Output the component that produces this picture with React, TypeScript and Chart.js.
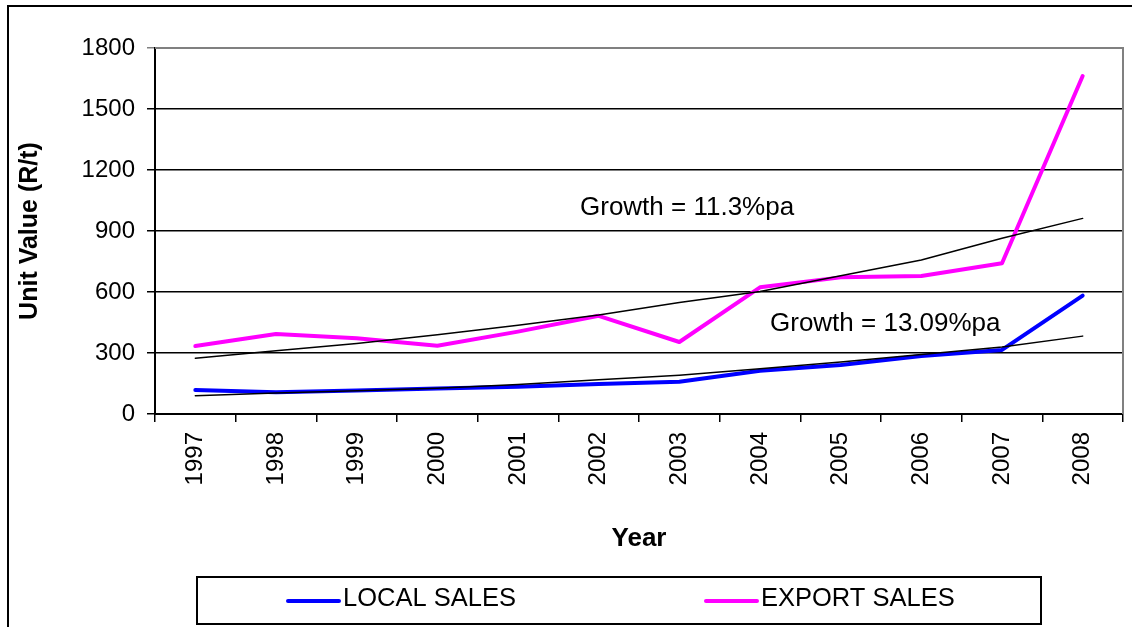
import React, { useEffect, useRef } from "react";
import { Chart, registerables } from "chart.js";

Chart.register(...registerables);

const years = ["1997", "1998", "1999", "2000", "2001", "2002", "2003", "2004", "2005", "2006", "2007", "2008"];
const localSales = [118, 107, 115, 125, 134, 147, 159, 213, 241, 285, 315, 582];
const exportSales = [334, 393, 372, 336, 405, 483, 354, 623, 672, 679, 741, 1662];
const exportTrend = [274, 311, 347, 390, 436, 487, 548, 602, 680, 757, 864, 962];
const localTrend = [90, 103, 114, 127, 145, 168, 191, 222, 256, 293, 330, 383];
const yTicks = [0, 300, 600, 900, 1200, 1500, 1800];
const annotations = [
  { text: "Growth = 11.3%pa", x: 580, y: 208 },
  { text: "Growth = 13.09%pa", x: 770, y: 324 },
];
const legendItems = [
  { label: "LOCAL SALES", color: "#0000FF", x: 288 },
  { label: "EXPORT SALES", color: "#FF00FF", x: 706 },
];

const FONT = "'Liberation Sans', Arial, sans-serif";

const decorPlugin = {
  id: "decor",
  afterDraw(chart: any) {
    const ctx = chart.ctx;
    const a = chart.chartArea;
    ctx.save();
    // plot area gray top/right border
    ctx.strokeStyle = "#808080";
    ctx.lineWidth = 2;
    ctx.beginPath();
    ctx.moveTo(a.left, a.top);
    ctx.lineTo(a.right, a.top);
    ctx.lineTo(a.right, a.bottom);
    ctx.stroke();
    // outer border (left/top)
    ctx.strokeStyle = "#000000";
    ctx.lineWidth = 2;
    ctx.beginPath();
    ctx.moveTo(8, 627);
    ctx.lineTo(8, 6);
    ctx.lineTo(1132, 6);
    ctx.stroke();
    // annotations
    ctx.fillStyle = "#000000";
    ctx.font = `26px ${FONT}`;
    ctx.textBaseline = "middle";
    ctx.textAlign = "left";
    annotations.forEach((t) => ctx.fillText(t.text, t.x, t.y));
    // legend box
    ctx.lineWidth = 2;
    ctx.strokeStyle = "#000000";
    ctx.strokeRect(197, 577, 844, 47);
    legendItems.forEach((it) => {
      ctx.strokeStyle = it.color;
      ctx.lineWidth = 4;
      ctx.lineCap = "round";
      ctx.beginPath();
      ctx.moveTo(it.x, 601);
      ctx.lineTo(it.x + 51, 601);
      ctx.stroke();
      ctx.fillStyle = "#000000";
      ctx.font = `25.5px ${FONT}`;
      ctx.textBaseline = "middle";
      ctx.fillText(it.label, it.x + 55, 599);
    });
    ctx.restore();
  },
};

export default function App() {
  const ref = useRef<HTMLCanvasElement | null>(null);
  useEffect(() => {
    if (!ref.current) return;
    const chart = new Chart(ref.current, {
      type: "line",
      data: {
        labels: years,
        datasets: [
          { label: "EXPORT TREND", data: exportTrend, borderColor: "#000000", borderWidth: 1.5, pointRadius: 0, order: 0 },
          { label: "LOCAL TREND", data: localTrend, borderColor: "#000000", borderWidth: 1.5, pointRadius: 0, order: 1 },
          { label: "LOCAL SALES", data: localSales, borderColor: "#0000FF", borderWidth: 4, pointRadius: 0, order: 2 },
          { label: "EXPORT SALES", data: exportSales, borderColor: "#FF00FF", borderWidth: 4, pointRadius: 0, order: 3 },
        ],
      },
      options: {
        animation: false,
        responsive: false,
        devicePixelRatio: 1,
        layout: { padding: { left: 0, top: 48, right: 9, bottom: 0 } },
        plugins: { legend: { display: false }, tooltip: { enabled: false } },
        elements: { line: { tension: 0, borderCapStyle: "round", borderJoinStyle: "round" } },
        scales: {
          x: {
            type: "category",
            offset: true,
            afterFit: (s: any) => { s.height = 213; },
            grid: { offset: true, drawOnChartArea: false, drawTicks: true, tickLength: 8, color: "#000000", lineWidth: 1.5 },
            border: { display: true, color: "#000000", width: 2 },
            ticks: { color: "#000000", font: { family: FONT, size: 24 }, autoSkip: false, maxRotation: 90, minRotation: 90, padding: 10 },
            title: { display: true, text: "Year", color: "#000000", font: { family: FONT, size: 26, weight: "bold" }, padding: { top: 0, bottom: 73 } },
          },
          y: {
            min: 0,
            max: 1800,
            afterFit: (s: any) => { s.width = 155; },
            afterBuildTicks: (s: any) => { s.ticks = yTicks.map((v) => ({ value: v })); },
            grid: {
              color: (c: any) => (c.tick && c.tick.value === 1800 ? "#808080" : "#000000"),
              lineWidth: 1.5,
              drawTicks: true,
              tickLength: 8,
            },
            border: { display: true, color: "#000000", width: 2 },
            ticks: { color: "#000000", font: { family: FONT, size: 24 }, padding: 12, callback: (v: any) => String(v) },
            title: { display: true, text: "Unit Value (R/t)", color: "#000000", font: { family: FONT, size: 25, weight: "bold" }, padding: { top: 15, bottom: 0 } },
          },
        },
      },
      plugins: [decorPlugin],
    });
    return () => chart.destroy();
  }, []);
  return (
    <div style={{ position: "absolute", left: 0, top: 0, width: 1132, height: 627, background: "#ffffff" }}>
      <canvas ref={ref} width={1132} height={627} style={{ width: 1132, height: 627, display: "block" }} />
    </div>
  );
}
